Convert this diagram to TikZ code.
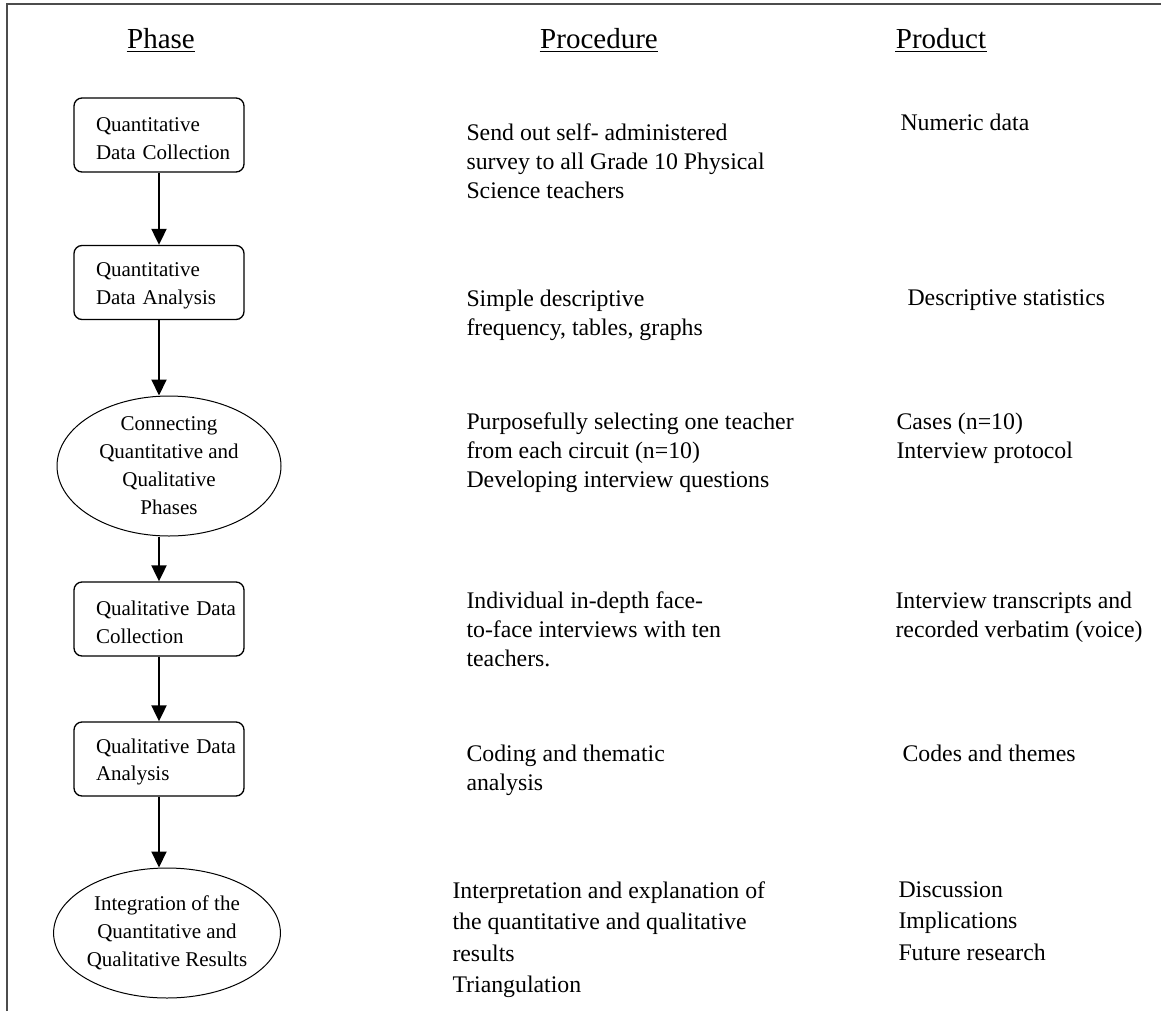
\documentclass[tikz,border=0pt]{standalone}
\usepackage{fontspec}
\setmainfont{Liberation Serif}
\usetikzlibrary{shapes.geometric,arrows.meta}

\tikzset{every picture/.style={line width=0.75pt}}
\tikzset{
  headtext/.style={font=\fontsize{21.75pt}{26pt}\selectfont, inner sep=0pt, anchor=base},
  bodytext/.style={font=\fontsize{17.85pt}{21.75pt}\selectfont, align=left, inner sep=0pt, anchor=north west},
  phasebox/.style={draw, line width=1pt, rounded corners=6pt, minimum height=55.5pt, text width=94.5pt, inner xsep=16.5pt, inner ysep=0pt, align=left, font=\fontsize{15.75pt}{20.8pt}\selectfont, execute at begin node=\rule{0pt}{15.5pt}},
  phaseoval/.style={draw, ellipse, line width=0.75pt, inner sep=0pt, align=center, font=\fontsize{15.75pt}{21pt}\selectfont},
  flowarrow/.style={line width=1.5pt, -{Triangle[length=12pt,width=11.25pt]}},
}

\begin{document}
\begin{tikzpicture}[x=0.75pt,y=0.75pt,yscale=-1,xscale=1]
\useasboundingbox (0,0) rectangle (1161,1011);

%Straight Lines [frame]
\draw [line width=1.5pt, color=black!70] (7,1011) -- (7,4) -- (1161,4);

% Text Node
\node [headtext] (hphase) at (161,48.5) {Phase};
% Text Node
\node [headtext] (hproc) at (599,48.5) {Procedure};
% Text Node
\node [headtext] (hprod) at (941,48.5) {Product};
%Straight Lines [underlines]
\foreach \h in {hphase,hproc,hprod}
  \draw [line width=1.1pt] (\h.base west |- 0,51.5) -- (\h.base east |- 0,51.5);

%Shape: Rounded Rect
\node [phasebox] (qdc) at (159,135) {Quantitative\\\mbox{Data Collection}};
%Shape: Rounded Rect
\node [phasebox] (qda) at (159,282.5) {Quantitative\\\mbox{Data Analysis}};
%Shape: Ellipse
\node [phaseoval, minimum width=168pt, minimum height=105pt] (cqq) at (169,466) {Connecting\\Quantitative and\\Qualitative\\Phases};
%Shape: Rounded Rect
\node [phasebox] (qlc) at (159,619) {\mbox{Qualitative Data}\\Collection};
%Shape: Rounded Rect
\node [phasebox] (qla) at (159,759) {\mbox{Qualitative Data}\\Analysis};
%Shape: Ellipse
\node [phaseoval, minimum width=168.75pt, minimum height=97.5pt] (iqq) at (167,933) {Integration of the\\Quantitative and\\Qualitative Results};

%Straight Lines [arrows]
\draw [flowarrow] (qdc.south) -- (qdc.south |- qda.north);
\draw [flowarrow] (qda.south) -- (qda.south |- cqq.north);
\draw [flowarrow] (qlc.north |- cqq.south) -- (qlc.north);
\draw [flowarrow] (qlc.south) -- (qla.north);
\draw [flowarrow] (qla.south) -- (qla.south |- iqq.north);

% Text Node
\node [bodytext] (p1) at (466,123) {Send out self- administered\\survey to all Grade 10 Physical\\Science teachers};
% Text Node
\node [bodytext] (r1) at (900,113) {Numeric data};
% Text Node
\node [bodytext] (p2) at (466,289) {Simple descriptive\\frequency, tables, graphs};
% Text Node
\node [bodytext] (r2) at (907,289) {Descriptive statistics};
% Text Node
\node [bodytext] (p3) at (466,412) {Purposefully selecting one teacher\\from each circuit (n=10)\\Developing interview questions};
% Text Node
\node [bodytext] (r3) at (896,412) {Cases (n=10)\\Interview protocol};
% Text Node
\node [bodytext] (p4) at (466,591) {Individual in-depth face-\\to-face interviews with ten\\teachers.};
% Text Node
\node [bodytext] (r4) at (895,591) {Interview transcripts and\\recorded verbatim (voice)};
% Text Node
\node [bodytext] (p5) at (466,744) {Coding and thematic\\analysis};
% Text Node
\node [bodytext] (r5) at (902,744) {Codes and themes};
% Text Node
\node [bodytext, font=\fontsize{17.85pt}{23.6pt}\selectfont] (p6) at (452,881) {Interpretation and explanation of\\the quantitative and qualitative\\results\\Triangulation};
% Text Node
\node [bodytext, font=\fontsize{17.85pt}{23.6pt}\selectfont] (r6) at (898,881) {Discussion\\Implications\\Future research};

\end{tikzpicture}
\end{document}
